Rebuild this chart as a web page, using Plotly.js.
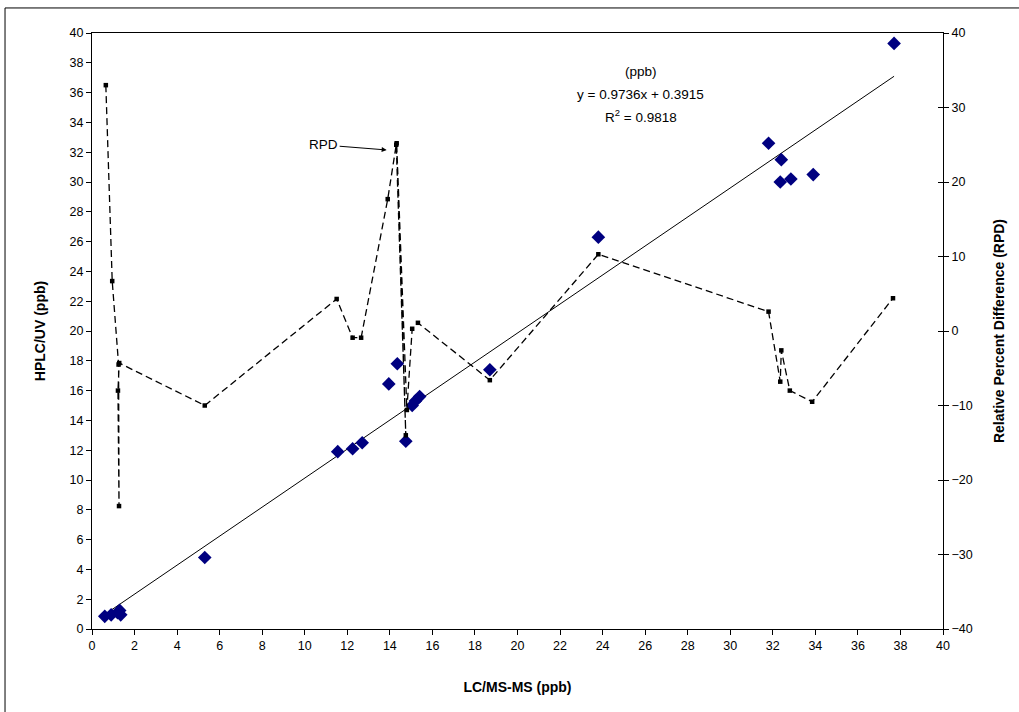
<!DOCTYPE html>
<html>
<head>
<meta charset="utf-8">
<script src="https://cdn.plot.ly/plotly-3.0.1.min.js"></script>
<style>
  html, body { margin: 0; padding: 0; background: #fff; }
  #chart { width: 1019px; height: 712px; }
</style>
</head>
<body>
<div id="chart"></div>
<script>
// LC/MS-MS vs HPLC/UV concentrations (ppb)
const lcms = [0.6, 0.9, 1.2, 1.3, 1.35, 5.3, 11.55, 12.25, 12.7, 13.95, 14.35, 14.75, 15.05, 15.2, 15.4, 18.7, 23.8, 31.8, 32.4, 32.35, 32.85, 33.9, 37.7];
const hplc = [0.85, 0.95, 1.1, 1.25, 0.95, 4.8, 11.9, 12.1, 12.5, 16.45, 17.8, 12.6, 15.0, 15.3, 15.6, 17.4, 26.3, 32.6, 31.5, 30.0, 30.2, 30.5, 39.3];

// Relative percent difference series (data order as plotted)
const rpdX = [0.65, 0.95, 1.25, 1.27, 1.22, 1.28, 5.3, 11.5, 12.25, 12.65, 13.9, 14.3, 14.75, 14.32, 14.8, 15.05, 15.32, 18.7, 23.8, 31.8, 32.35, 32.4, 32.8, 33.85, 37.65];
const rpdY = [33, 6.7, -4.5, -23.5, -8, -4.3, -10, 4.3, -0.9, -0.9, 17.7, 25, -14, 25.2, -10.6, 0.3, 1.1, -6.6, 10.3, 2.6, -6.8, -2.6, -8, -9.5, 4.4];

// Linear fit
const slope = 0.9736;
const intercept = 0.3915;
const r2 = 0.9818;
const fitX = [Math.min(...lcms), Math.max(...lcms)];
const fitY = fitX.map(v => slope * v + intercept);

const xTicks = [0, 2, 4, 6, 8, 10, 12, 14, 16, 18, 20, 22, 24, 26, 28, 30, 32, 34, 36, 38, 40];

const font = 'Liberation Sans, Arial, sans-serif';

const traces = [
  {
    x: rpdX, y: rpdY, yaxis: 'y2', type: 'scatter', mode: 'lines+markers',
    line: {color: '#000', width: 1.3, dash: '7px,4px'},
    marker: {symbol: 'square', size: 4.5, color: '#000'},
    hoverinfo: 'x+y'
  },
  {
    x: fitX, y: fitY, type: 'scatter', mode: 'lines',
    line: {color: '#000', width: 1}
  },
  {
    x: lcms, y: hplc, type: 'scatter', mode: 'markers',
    marker: {symbol: 'diamond', size: 10.5, color: '#000080', line: {width: 0}}
  },
  {
    x: [20], y: [0], yaxis: 'y3', type: 'scatter', mode: 'markers',
    marker: {size: 1, opacity: 0}, hoverinfo: 'skip'
  }
];

const layout = {
  width: 1019, height: 712,
  margin: {l: 92, r: 76, t: 33, b: 83},
  paper_bgcolor: '#fff', plot_bgcolor: '#fff',
  showlegend: false,
  font: {family: font, size: 12, color: '#000'},
  xaxis: {
    range: [0, 40], tickvals: xTicks, ticktext: xTicks.map(String),
    ticks: 'outside', ticklen: 5, tickcolor: '#000',
    showline: true, linecolor: '#000', linewidth: 1, mirror: true,
    showgrid: false, zeroline: false,
    tickfont: {family: font, size: 12.5},
    title: {text: 'LC/MS-MS (ppb)', font: {family: font, size: 14, color: '#000', weight: 'bold'}, standoff: 30}
  },
  yaxis: {
    range: [0, 40], dtick: 2, tick0: 0,
    ticks: 'outside', ticklen: 5, tickcolor: '#000',
    showline: true, linecolor: '#000', linewidth: 1,
    showgrid: false, zeroline: false,
    tickfont: {family: font, size: 12.5},
    title: {text: 'HPLC/UV (ppb)', font: {family: font, size: 14, color: '#000', weight: 'bold'}, standoff: 20}
  },
  yaxis2: {
    range: [-40, 40], dtick: 10, tick0: 0, overlaying: 'y', side: 'right',
    ticks: 'outside', ticklen: 5, tickcolor: '#000',
    showline: true, linecolor: '#000', linewidth: 1,
    showgrid: false, zeroline: false,
    tickfont: {family: font, size: 12.5},
    title: {text: 'Relative Percent Difference (RPD)', font: {family: font, size: 14, color: '#000', weight: 'bold'}, standoff: 22}
  },
  yaxis3: {
    range: [-40, 40], dtick: 10, tick0: 0, overlaying: 'y', side: 'right',
    ticks: 'inside', ticklen: 5, tickcolor: '#000',
    showticklabels: false, showline: false, showgrid: false, zeroline: false
  },
  shapes: [
    {type: 'rect', xref: 'paper', yref: 'paper', x0: -0.1022, x1: 1.3, y0: -0.3, y1: 1.042,
     line: {color: '#000', width: 1}, fillcolor: 'rgba(0,0,0,0)', layer: 'below'}
  ],
  annotations: [
    {x: 25.8, y: 37.4, xref: 'x', yref: 'y', text: '(ppb)', showarrow: false,
     font: {family: font, size: 13.5, color: '#000'}},
    {x: 25.8, y: 35.9, xref: 'x', yref: 'y', text: 'y = ' + slope + 'x + ' + intercept, showarrow: false,
     font: {family: font, size: 13.5, color: '#000'}},
    {x: 25.8, y: 34.4, xref: 'x', yref: 'y', text: 'R<sup>2</sup> = ' + r2, showarrow: false,
     font: {family: font, size: 13.5, color: '#000'}},
    {x: 13.85, y: 32.15, xref: 'x', yref: 'y', text: 'RPD', showarrow: true,
     ax: -63, ay: -5, arrowhead: 2, arrowsize: 1, arrowwidth: 1, arrowcolor: '#000',
     font: {family: font, size: 13.5, color: '#000'}}
  ]
};

Plotly.newPlot('chart', traces, layout, {displayModeBar: false, staticPlot: true});
</script>
</body>
</html>
